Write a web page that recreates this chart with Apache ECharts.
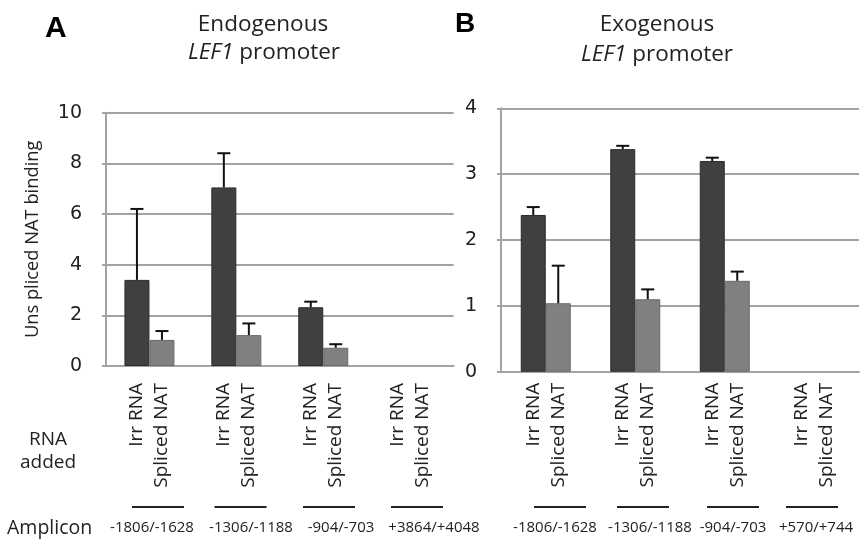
<!DOCTYPE html>
<html><head><meta charset="utf-8">
<script src="https://cdn.jsdelivr.net/npm/echarts@6/dist/echarts.min.js"></script>
<style>html,body{margin:0;padding:0;background:#fff}#c{width:866px;height:541px}</style>
</head><body><div id="c"></div>
<script>
// ---- data ----
const ampliconsA = ['-1806/-1628', '-1306/-1188', '-904/-703', '+3864/+4048'];
const ampliconsB = ['-1806/-1628', '-1306/-1188', '-904/-703', '+570/+744'];
const rnaNames = ['Irr RNA', 'Spliced NAT'];
const endoIrr = [3.4, 7.05, 2.32, 0];
const endoIrrErr = [2.8, 1.35, 0.22, null];
const endoSpl = [1.03, 1.22, 0.72, 0];
const endoSplErr = [0.35, 0.46, 0.14, null];
const exoIrr = [2.38, 3.38, 3.2, 0];
const exoIrrErr = [0.12, 0.05, 0.05, null];
const exoSpl = [1.04, 1.1, 1.38, 0];
const exoSplErr = [0.57, 0.15, 0.14, null];
const yAxisA = {min: 0, max: 10, interval: 2};
const yAxisB = {min: 0, max: 4, interval: 1};
const yName = 'Uns pliced NAT binding';

// ---- style ----
const GRID = '#a3a3a3';
const DARK = '#404040', LIGHT = '#808080';
const SANS = '"Open Sans", sans-serif';
const BW = 25;

function errRender(offset) {
  return function (params, api) {
    const x = api.value(0), v = api.value(1), e = api.value(2);
    const b = api.coord([x, v]);
    const t = api.coord([x, v + e]);
    const cx = b[0] + offset;
    return {type: 'group', children: [
      {type: 'line', shape: {x1: cx, y1: b[1], x2: cx, y2: t[1]}, style: {stroke: '#111', lineWidth: 2}},
      {type: 'line', shape: {x1: cx - 6.5, y1: t[1], x2: cx + 6.5, y2: t[1]}, style: {stroke: '#111', lineWidth: 2}}
    ]};
  };
}
function errData(vals, errs) {
  const out = [];
  vals.forEach((v, i) => { if (errs[i] != null) out.push([i, v, errs[i]]); });
  return out;
}
function barSeries(name, vals, idx, color, border, dist) {
  return {
    type: 'bar', name: name, xAxisIndex: idx, yAxisIndex: idx,
    data: vals.map(v => v === 0 ? {value: v, itemStyle: {borderWidth: 0}} : v),
    barWidth: BW, barGap: '0%',
    itemStyle: {color: color, borderColor: border, borderWidth: 1},
    label: {show: true, position: 'bottom', distance: dist, rotate: 90, align: 'right',
      verticalAlign: 'middle', formatter: name, fontFamily: SANS, fontSize: 19, color: '#222'},
    silent: true, animation: false
  };
}
function errSeries(vals, errs, idx, offset) {
  return {type: 'custom', xAxisIndex: idx, yAxisIndex: idx, z: 5, renderItem: errRender(offset),
    data: errData(vals, errs), animation: false, silent: true};
}
function yAx(idx, cfg, withName) {
  const a = {
    type: 'value', gridIndex: idx, min: cfg.min, max: cfg.max, interval: cfg.interval,
    axisLine: {show: true, lineStyle: {color: GRID, width: 2}},
    axisTick: {show: true, length: 4, lineStyle: {color: GRID, width: 2}},
    splitLine: {show: true, lineStyle: {color: GRID, width: 2}},
    axisLabel: {margin: 24, fontFamily: '"DejaVu Sans", sans-serif', fontSize: 19, color: '#222'}
  };
  if (withName) {
    Object.assign(a, {name: yName, nameLocation: 'middle', nameGap: 64, nameRotate: 90,
      nameTextStyle: {fontFamily: SANS, fontSize: 18.3, color: '#222'}});
  }
  return a;
}
function xAx(idx, cats) {
  return {type: 'category', gridIndex: idx, data: cats,
    axisLine: {show: true, lineStyle: {color: GRID, width: 2}},
    axisTick: {show: false}, axisLabel: {show: false}};
}

const chart = echarts.init(document.getElementById('c'), null, {renderer: 'canvas'});

const gfx = [];
function txt(t, x, y, font, align, extra) {
  gfx.push({type: 'text', x: x, y: y, silent: true,
    style: Object.assign({text: t, font: font, fill: '#222', textAlign: align || 'center', textVerticalAlign: 'middle'}, extra || {})});
}
const TF = '22.5px ' + SANS, TFI = 'italic 22.5px ' + SANS;
txt('A', 45, 29, 'bold 30px "Liberation Sans", Arial', 'left', {fill: '#000'});
txt('B', 455, 24, 'bold 28px "Liberation Sans", Arial', 'left', {fill: '#000'});
txt('Endogenous', 263, 25, TF);
txt('{i|LEF1} promoter', 264, 53, TF, 'center', {rich: {i: {font: TFI}}});
txt('Exogenous', 657, 25, TF);
txt('{i|LEF1} promoter', 657, 55, TF, 'center', {rich: {i: {font: TFI}}});
txt('RNA', 48, 440, '19px ' + SANS);
txt('added', 48, 463, '19px ' + SANS);
txt('Amplicon', 7, 528, '19.5px ' + SANS, 'left');
const lineCentersA = [158, 240.5, 329, 417];
const lineCentersB = [560, 643, 733, 812];
const labelCentersA = [152, 251, 341, 434];
const labelCentersB = [555, 650, 733, 816];
lineCentersA.concat(lineCentersB).forEach(c => {
  gfx.push({type: 'line', silent: true, shape: {x1: c - 26, y1: 507, x2: c + 26, y2: 507}, style: {stroke: '#222', lineWidth: 2}});
});
ampliconsA.forEach((a, i) => txt(a, labelCentersA[i], 528, '15px ' + SANS));
ampliconsB.forEach((a, i) => txt(a, labelCentersB[i], 528, '15px ' + SANS));

chart.setOption({
  animation: false,
  backgroundColor: '#fff',
  grid: [
    {left: 106, top: 112.7, width: 347.6, height: 253.3},
    {left: 501, top: 108.3, width: 358, height: 263.4}
  ],
  xAxis: [xAx(0, ampliconsA), xAx(1, ampliconsB)],
  yAxis: [yAx(0, yAxisA, true), yAx(1, yAxisB, false)],
  series: [
    barSeries(rnaNames[0], endoIrr, 0, DARK, '#2b2b2b', 17),
    barSeries(rnaNames[1], endoSpl, 0, LIGHT, '#6a6a6a', 17),
    barSeries(rnaNames[0], exoIrr, 1, DARK, '#2b2b2b', 11),
    barSeries(rnaNames[1], exoSpl, 1, LIGHT, '#6a6a6a', 11),
    errSeries(endoIrr, endoIrrErr, 0, -BW / 2),
    errSeries(endoSpl, endoSplErr, 0, BW / 2),
    errSeries(exoIrr, exoIrrErr, 1, -BW / 2),
    errSeries(exoSpl, exoSplErr, 1, BW / 2)
  ],
  graphic: gfx
});
</script></body></html>
